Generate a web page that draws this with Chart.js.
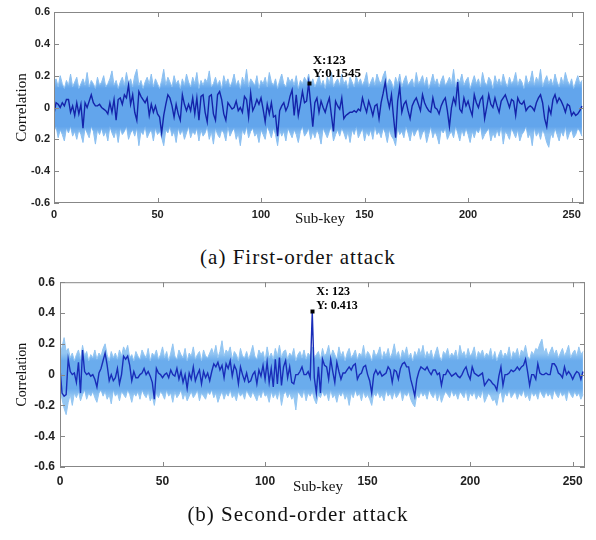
<!DOCTYPE html>
<html>
<head>
<meta charset="utf-8">
<script src="https://cdn.jsdelivr.net/npm/chart.js@4.4.1/dist/chart.umd.min.js"></script>
<style>
  html, body { margin: 0; padding: 0; background: #fff; }
  #page { position: relative; width: 596px; height: 540px; overflow: hidden; }
  .box { position: absolute; left: 0; width: 596px; }
  .caption { position: absolute; left: 0; width: 596px; text-align: center;
             font-family: "Liberation Serif", serif; font-size: 21px; line-height: 20px;
             letter-spacing: 1px; color: #111; }
</style>
</head>
<body>
<div id="page">
  <div class="box" style="top:0;height:240px"><canvas id="firstChart" width="596" height="240"></canvas></div>
  <div class="caption" style="top:247px">(a) First-order attack</div>
  <div class="box" style="top:270px;height:270px"><canvas id="secondChart" width="596" height="270"></canvas></div>
  <div class="caption" style="top:504px">(b) Second-order attack</div>
</div>
<script>
// tick values and labels
const xTickValues = [0, 50, 100, 150, 200, 250];
const yTickValues = [-0.6, -0.4, -0.2, 0, 0.2, 0.4, 0.6];
// the first plot really prints "0.2" under zero (minus sign missing)
const yTickLabelsFirst = ['-0.6', '-0.4', '0.2', '0', '0.2', '0.4', '0.6'];
const yTickLabelsSecond = ['-0.6', '-0.4', '-0.2', '0', '0.2', '0.4', '0.6'];

// peak annotations
const peakKey = 123;
const peakTextFirst = ['X:123', 'Y:0.1545'];
const peakTextSecond = ['X: 123', 'Y: 0.413'];

// (a) first-order attack: correct key trace, and the band of all other keys
const firstOrderKey = [
  -0.04, 0.03, 0.02, 0.00, 0.03, 0.01, 0.05, 0.05, -0.03, 0.01, -0.05, 0.03, -0.04, 0.02, -0.13, 0.03,
  0.00, 0.04, 0.08, 0.03, 0.01, 0.01, 0.02, 0.00, -0.01, -0.02, -0.04, 0.03, -0.03, 0.05, -0.08, 0.05,
  0.06, 0.02, 0.08, 0.06, 0.14, 0.02, 0.08, -0.03, -0.08, 0.10, 0.07, 0.05, 0.03, 0.06, -0.05, 0.02,
  -0.03, 0.01, -0.04, -0.06, -0.16, -0.05, 0.02, 0.08, 0.06, 0.01, -0.06, 0.02, -0.04, -0.08, 0.08, 0.02,
  -0.02, 0.02, -0.02, 0.06, -0.04, 0.06, -0.08, 0.07, 0.08, -0.03, -0.09, 0.07, 0.08, -0.04, -0.08, 0.08,
  0.10, 0.05, -0.04, -0.08, 0.03, 0.01, -0.01, 0.00, 0.04, -0.02, 0.00, -0.03, 0.07, 0.05, -0.06, 0.09,
  -0.02, 0.01, 0.05, 0.02, 0.06, -0.01, -0.09, 0.02, -0.04, 0.03, -0.06, -0.05, -0.18, -0.02, 0.01, 0.03,
  -0.02, 0.01, 0.07, 0.11, -0.05, 0.08, -0.05, 0.02, 0.10, 0.03, 0.04, 0.1545, 0.02, -0.12, 0.03, 0.06,
  -0.03, 0.04, 0.00, -0.03, 0.02, 0.06, -0.05, -0.15, 0.04, 0.01, -0.01, 0.06, -0.07, -0.05, -0.04, -0.03,
  -0.03, -0.02, -0.03, -0.01, -0.02, 0.06, 0.01, -0.03, 0.04, 0.00, -0.05, 0.01, 0.02, -0.07, 0.03, 0.09,
  0.16, 0.06, 0.00, 0.08, -0.06, -0.19, 0.04, 0.13, -0.03, 0.02, 0.04, -0.02, -0.07, 0.01, 0.04, 0.06,
  0.02, -0.02, 0.08, 0.03, 0.00, -0.02, -0.03, 0.06, 0.00, -0.01, -0.04, 0.01, 0.04, 0.06, -0.02, -0.12,
  0.00, 0.06, 0.02, 0.16, -0.01, -0.03, 0.06, 0.01, 0.04, -0.01, -0.05, 0.08, 0.03, 0.00, 0.05, 0.07,
  -0.07, 0.00, 0.08, 0.02, 0.00, 0.06, 0.01, -0.03, 0.04, 0.06, 0.08, 0.04, 0.00, 0.05, 0.04, -0.05,
  0.06, 0.03, 0.02, 0.04, -0.02, 0.00, 0.01, 0.00, -0.02, 0.03, 0.06, 0.08, 0.03, -0.07, -0.12, 0.00,
  -0.04, 0.05, 0.08, 0.03, 0.06, 0.04, 0.01, -0.03, 0.02, 0.01, -0.05, -0.03, -0.05, -0.04, -0.02, 0.01
];
const firstOrderUpper = [
  0.16, 0.18, 0.13, 0.20, 0.15, 0.12, 0.17, 0.14, 0.21, 0.13, 0.16, 0.19, 0.12, 0.15, 0.18, 0.14,
  0.22, 0.13, 0.17, 0.15, 0.12, 0.19, 0.14, 0.16, 0.20, 0.13, 0.15, 0.18, 0.23, 0.14, 0.17, 0.12,
  0.16, 0.19, 0.14, 0.22, 0.15, 0.18, 0.13, 0.20, 0.24, 0.14, 0.17, 0.12, 0.16, 0.19, 0.15, 0.21,
  0.13, 0.18, 0.15, 0.12, 0.17, 0.24, 0.14, 0.19, 0.16, 0.13, 0.20, 0.15, 0.17, 0.12, 0.18, 0.14,
  0.21, 0.16, 0.13, 0.19, 0.15, 0.22, 0.12, 0.17, 0.14, 0.18, 0.16, 0.23, 0.13, 0.15, 0.19, 0.14,
  0.17, 0.12, 0.20, 0.15, 0.18, 0.13, 0.16, 0.21, 0.14, 0.17, 0.12, 0.19, 0.15, 0.24, 0.13, 0.18,
  0.16, 0.14, 0.20, 0.12, 0.17, 0.15, 0.19, 0.13, 0.22, 0.16, 0.14, 0.18, 0.12, 0.17, 0.21, 0.15,
  0.13, 0.19, 0.16, 0.18, 0.14, 0.20, 0.12, 0.17, 0.15, 0.19, 0.16, 0.21, 0.14, 0.18, 0.13, 0.16,
  0.20, 0.14, 0.17, 0.12, 0.19, 0.15, 0.22, 0.13, 0.16, 0.18, 0.14, 0.21, 0.15, 0.17, 0.12, 0.19,
  0.16, 0.13, 0.20, 0.15, 0.18, 0.14, 0.17, 0.22, 0.13, 0.16, 0.19, 0.14, 0.21, 0.17, 0.15, 0.20,
  0.23, 0.14, 0.18, 0.16, 0.12, 0.19, 0.15, 0.21, 0.13, 0.17, 0.20, 0.14, 0.16, 0.18, 0.13, 0.22,
  0.15, 0.17, 0.20, 0.14, 0.19, 0.12, 0.16, 0.21, 0.15, 0.18, 0.13, 0.17, 0.20, 0.14, 0.16, 0.19,
  0.15, 0.24, 0.13, 0.18, 0.16, 0.21, 0.14, 0.17, 0.19, 0.12, 0.16, 0.20, 0.15, 0.18, 0.13, 0.22,
  0.16, 0.14, 0.19, 0.17, 0.12, 0.20, 0.15, 0.18, 0.14, 0.21, 0.16, 0.13, 0.19, 0.15, 0.17, 0.22,
  0.14, 0.18, 0.16, 0.12, 0.20, 0.15, 0.17, 0.23, 0.14, 0.19, 0.16, 0.24, 0.13, 0.17, 0.20, 0.15,
  0.18, 0.14, 0.21, 0.16, 0.13, 0.19, 0.15, 0.22, 0.17, 0.14, 0.18, 0.12, 0.16, 0.20, 0.15, 0.17
];
const firstOrderLower = [
  -0.15, -0.12, -0.19, -0.14, -0.17, -0.21, -0.13, -0.16, -0.12, -0.18, -0.15, -0.20, -0.14, -0.17, -0.22, -0.13,
  -0.16, -0.19, -0.12, -0.15, -0.23, -0.14, -0.17, -0.13, -0.18, -0.15, -0.21, -0.12, -0.16, -0.19, -0.14, -0.22,
  -0.13, -0.17, -0.15, -0.12, -0.20, -0.16, -0.14, -0.18, -0.13, -0.24, -0.15, -0.17, -0.12, -0.19, -0.16, -0.14,
  -0.21, -0.13, -0.17, -0.15, -0.19, -0.24, -0.14, -0.16, -0.12, -0.18, -0.15, -0.22, -0.13, -0.17, -0.14, -0.20,
  -0.16, -0.12, -0.19, -0.15, -0.17, -0.13, -0.21, -0.14, -0.18, -0.16, -0.12, -0.20, -0.15, -0.23, -0.13, -0.17,
  -0.19, -0.14, -0.16, -0.21, -0.12, -0.18, -0.15, -0.13, -0.20, -0.16, -0.24, -0.14, -0.17, -0.12, -0.19, -0.15,
  -0.13, -0.18, -0.16, -0.22, -0.14, -0.17, -0.20, -0.12, -0.15, -0.19, -0.13, -0.17, -0.24, -0.14, -0.18, -0.15,
  -0.21, -0.13, -0.16, -0.19, -0.14, -0.17, -0.22, -0.15, -0.12, -0.18, -0.16, -0.13, -0.20, -0.15, -0.19, -0.14,
  -0.17, -0.23, -0.13, -0.16, -0.19, -0.15, -0.12, -0.21, -0.17, -0.14, -0.18, -0.13, -0.16, -0.20, -0.15, -0.22,
  -0.14, -0.17, -0.12, -0.19, -0.16, -0.13, -0.21, -0.15, -0.18, -0.14, -0.20, -0.12, -0.17, -0.15, -0.19, -0.13,
  -0.16, -0.22, -0.14, -0.18, -0.20, -0.24, -0.13, -0.17, -0.15, -0.19, -0.12, -0.16, -0.21, -0.14, -0.18, -0.15,
  -0.13, -0.20, -0.16, -0.14, -0.22, -0.17, -0.12, -0.19, -0.15, -0.18, -0.23, -0.14, -0.16, -0.13, -0.20, -0.17,
  -0.15, -0.19, -0.12, -0.16, -0.21, -0.14, -0.18, -0.13, -0.17, -0.22, -0.15, -0.19, -0.14, -0.16, -0.12, -0.20,
  -0.17, -0.15, -0.13, -0.21, -0.16, -0.19, -0.14, -0.18, -0.12, -0.23, -0.15, -0.17, -0.20, -0.13, -0.16, -0.19,
  -0.14, -0.21, -0.17, -0.15, -0.12, -0.19, -0.16, -0.24, -0.13, -0.18, -0.15, -0.20, -0.14, -0.17, -0.22, -0.25,
  -0.16, -0.19, -0.13, -0.17, -0.21, -0.15, -0.18, -0.12, -0.20, -0.16, -0.14, -0.19, -0.17, -0.13, -0.15, -0.18
];

// (b) second-order attack
const secondOrderKey = [
  0.04, -0.12, -0.14, -0.13, 0.10, 0.02, 0.00, 0.01, -0.05, 0.08, -0.12, 0.16, 0.02, 0.00, 0.01, -0.01,
  0.00, -0.03, -0.08, 0.01, 0.04, 0.09, 0.14, 0.06, -0.04, 0.00, -0.04, -0.02, 0.04, -0.06, 0.00, 0.12,
  0.10, 0.12, 0.06, -0.04, 0.02, -0.02, -0.02, 0.00, 0.01, 0.04, 0.00, 0.02, -0.01, -0.05, -0.16, 0.04,
  0.01, 0.00, -0.02, 0.00, 0.01, -0.02, 0.03, 0.00, -0.01, 0.04, -0.03, 0.02, -0.05, 0.00, -0.09, 0.01,
  -0.03, 0.05, -0.04, 0.00, 0.03, -0.06, 0.02, -0.02, 0.01, -0.04, 0.02, 0.07, 0.05, 0.08, 0.03, 0.06,
  -0.02, 0.07, 0.04, 0.09, -0.01, 0.06, 0.03, -0.06, 0.05, 0.00, -0.04, 0.01, -0.05, -0.04, 0.00, 0.02,
  -0.06, 0.03, -0.01, 0.06, -0.03, 0.08, -0.05, 0.04, -0.08, 0.10, -0.06, 0.11, -0.07, 0.05, 0.09, -0.02,
  0.05, -0.05, -0.06, 0.00, 0.00, 0.02, 0.05, 0.00, 0.00, 0.02, -0.02, 0.41, -0.02, -0.12, 0.05, -0.12,
  0.10, 0.06, 0.05, -0.03, 0.10, 0.02, -0.05, 0.08, 0.02, -0.03, 0.01, 0.01, 0.03, 0.05, 0.03, 0.06,
  0.07, -0.03, 0.00, 0.01, 0.05, 0.06, 0.00, -0.04, -0.12, 0.00, 0.03, 0.00, 0.02, -0.01, 0.00, 0.01,
  0.05, 0.03, -0.05, 0.03, 0.02, -0.03, 0.04, 0.07, 0.08, 0.05, 0.05, -0.03, -0.08, -0.14, -0.03, 0.02,
  0.05, 0.04, 0.03, 0.05, 0.02, 0.00, 0.03, 0.03, 0.00, 0.01, -0.07, 0.00, 0.00, 0.03, 0.01, -0.01,
  0.00, 0.01, -0.01, -0.02, 0.00, 0.03, 0.05, 0.00, -0.03, 0.05, 0.01, 0.00, -0.01, 0.00, 0.01, -0.07,
  -0.05, -0.03, -0.04, -0.06, -0.07, -0.10, -0.01, 0.05, -0.07, 0.00, 0.00, 0.01, 0.03, 0.02, 0.03, 0.05,
  0.03, 0.05, 0.06, 0.10, 0.02, -0.07, 0.00, 0.00, -0.03, 0.07, 0.01, 0.00, 0.00, 0.01, 0.00, 0.00,
  0.07, 0.07, 0.05, 0.01, 0.00, -0.02, 0.05, 0.00, 0.02, 0.00, -0.03, 0.00, 0.02, 0.01, -0.03, 0.02
];
const secondOrderUpper = [
  0.12, 0.18, 0.24, 0.15, 0.17, 0.11, 0.14, 0.09, 0.13, 0.16, 0.10, 0.19, 0.12, 0.15, 0.09, 0.13,
  0.11, 0.16, 0.10, 0.14, 0.12, 0.17, 0.20, 0.13, 0.09, 0.15, 0.11, 0.14, 0.10, 0.16, 0.12, 0.18,
  0.15, 0.19, 0.11, 0.13, 0.09, 0.15, 0.12, 0.10, 0.16, 0.13, 0.11, 0.17, 0.09, 0.14, 0.12, 0.16,
  0.10, 0.13, 0.18, 0.11, 0.15, 0.09, 0.14, 0.20, 0.12, 0.10, 0.16, 0.13, 0.11, 0.17, 0.09, 0.14,
  0.12, 0.18, 0.10, 0.13, 0.15, 0.09, 0.16, 0.12, 0.11, 0.14, 0.17, 0.13, 0.19, 0.11, 0.15, 0.22,
  0.12, 0.16, 0.14, 0.18, 0.10, 0.15, 0.13, 0.09, 0.17, 0.12, 0.11, 0.15, 0.10, 0.14, 0.19, 0.12,
  0.10, 0.16, 0.13, 0.15, 0.09, 0.18, 0.11, 0.14, 0.10, 0.17, 0.12, 0.19, 0.11, 0.15, 0.16, 0.10,
  0.14, 0.12, 0.17, 0.09, 0.13, 0.15, 0.11, 0.16, 0.10, 0.14, 0.12, 0.18, 0.11, 0.13, 0.15, 0.10,
  0.17, 0.12, 0.14, 0.19, 0.11, 0.16, 0.13, 0.10, 0.18, 0.12, 0.15, 0.09, 0.14, 0.17, 0.11, 0.13,
  0.16, 0.10, 0.14, 0.12, 0.19, 0.11, 0.15, 0.13, 0.09, 0.16, 0.12, 0.14, 0.18, 0.10, 0.15, 0.12,
  0.17, 0.11, 0.14, 0.20, 0.12, 0.15, 0.10, 0.16, 0.13, 0.18, 0.11, 0.14, 0.09, 0.15, 0.12, 0.17,
  0.13, 0.19, 0.11, 0.15, 0.12, 0.16, 0.10, 0.14, 0.18, 0.12, 0.09, 0.15, 0.13, 0.17, 0.11, 0.14,
  0.12, 0.16, 0.10, 0.19, 0.13, 0.15, 0.11, 0.17, 0.12, 0.14, 0.18, 0.10, 0.15, 0.13, 0.16, 0.11,
  0.14, 0.12, 0.17, 0.10, 0.15, 0.09, 0.13, 0.16, 0.11, 0.14, 0.12, 0.18, 0.10, 0.15, 0.13, 0.17,
  0.11, 0.16, 0.14, 0.19, 0.12, 0.10, 0.15, 0.13, 0.17, 0.16, 0.20, 0.23, 0.14, 0.17, 0.12, 0.15,
  0.18, 0.13, 0.16, 0.11, 0.14, 0.17, 0.12, 0.15, 0.19, 0.11, 0.14, 0.16, 0.12, 0.18, 0.13, 0.15
];
const secondOrderLower = [
  -0.10, -0.16, -0.22, -0.26, -0.18, -0.13, -0.20, -0.12, -0.15, -0.11, -0.17, -0.13, -0.10, -0.16, -0.12, -0.14,
  -0.11, -0.15, -0.18, -0.12, -0.10, -0.14, -0.11, -0.16, -0.13, -0.19, -0.10, -0.14, -0.12, -0.17, -0.11, -0.13,
  -0.15, -0.10, -0.13, -0.18, -0.12, -0.14, -0.11, -0.16, -0.10, -0.13, -0.15, -0.11, -0.17, -0.14, -0.20, -0.12,
  -0.15, -0.11, -0.13, -0.16, -0.10, -0.14, -0.12, -0.18, -0.11, -0.15, -0.13, -0.10, -0.16, -0.12, -0.17, -0.14,
  -0.11, -0.15, -0.13, -0.10, -0.17, -0.12, -0.14, -0.16, -0.11, -0.13, -0.10, -0.15, -0.12, -0.18, -0.14, -0.11,
  -0.16, -0.12, -0.14, -0.10, -0.15, -0.13, -0.17, -0.11, -0.14, -0.12, -0.16, -0.10, -0.13, -0.15, -0.11, -0.14,
  -0.17, -0.12, -0.15, -0.10, -0.14, -0.13, -0.18, -0.11, -0.15, -0.12, -0.16, -0.10, -0.20, -0.13, -0.11, -0.15,
  -0.12, -0.16, -0.14, -0.23, -0.11, -0.13, -0.15, -0.10, -0.17, -0.12, -0.14, -0.11, -0.16, -0.19, -0.13, -0.15,
  -0.11, -0.14, -0.12, -0.17, -0.10, -0.15, -0.13, -0.18, -0.12, -0.14, -0.11, -0.16, -0.13, -0.20, -0.12, -0.15,
  -0.10, -0.14, -0.12, -0.17, -0.11, -0.15, -0.13, -0.16, -0.20, -0.12, -0.14, -0.11, -0.15, -0.13, -0.17, -0.10,
  -0.14, -0.12, -0.16, -0.11, -0.15, -0.13, -0.10, -0.17, -0.12, -0.14, -0.11, -0.16, -0.19, -0.21, -0.13, -0.15,
  -0.11, -0.14, -0.12, -0.16, -0.10, -0.13, -0.15, -0.11, -0.17, -0.12, -0.18, -0.14, -0.11, -0.13, -0.15, -0.10,
  -0.14, -0.12, -0.16, -0.11, -0.13, -0.15, -0.10, -0.17, -0.12, -0.14, -0.11, -0.16, -0.13, -0.15, -0.10, -0.18,
  -0.15, -0.12, -0.14, -0.17, -0.16, -0.20, -0.13, -0.11, -0.18, -0.12, -0.14, -0.10, -0.15, -0.13, -0.11, -0.16,
  -0.12, -0.14, -0.10, -0.15, -0.13, -0.17, -0.11, -0.14, -0.12, -0.16, -0.10, -0.13, -0.15, -0.11, -0.14, -0.12,
  -0.16, -0.10, -0.13, -0.15, -0.11, -0.14, -0.12, -0.17, -0.10, -0.13, -0.15, -0.11, -0.14, -0.12, -0.16, -0.13
];

const subKeys = firstOrderKey.map((_, i) => i);
const toPoints = (arr) => arr.map((v, i) => ({ x: subKeys[i], y: v }));

const axisGray = 'rgb(135,135,135)';

// band fill: core colour, fading to a paler tone in the spikes beyond +-coreLevel
function bandFill(cfg) {
  return (c) => {
    const chart = c.chart;
    const a = chart.chartArea;
    if (!a) return cfg.bandColor;
    const y = chart.scales.y;
    const h = a.bottom - a.top;
    const f = (v) => Math.min(1, Math.max(0, (y.getPixelForValue(v) - a.top) / h));
    const g = chart.ctx.createLinearGradient(0, a.top, 0, a.bottom);
    g.addColorStop(0, cfg.edgeColor);
    g.addColorStop(f(cfg.coreLevel + 0.05), cfg.edgeColor);
    g.addColorStop(f(cfg.coreLevel), cfg.bandColor);
    g.addColorStop(f(-cfg.coreLevel), cfg.bandColor);
    g.addColorStop(f(-cfg.coreLevel - 0.05), cfg.edgeColor);
    g.addColorStop(1, cfg.edgeColor);
    return g;
  };
}

// box, inward ticks on all four sides, axis titles and the data tip
const figureDecor = {
  id: 'figureDecor',
  afterDraw(chart, args, opts) {
    const { ctx, chartArea: a, scales } = chart;
    ctx.save();
    ctx.strokeStyle = axisGray;
    ctx.lineWidth = 1;
    ctx.strokeRect(a.left + 0.5, a.top + 0.5, a.right - a.left - 1, a.bottom - a.top - 1);
    ctx.beginPath();
    xTickValues.forEach(v => {
      const px = Math.round(scales.x.getPixelForValue(v)) + 0.5;
      ctx.moveTo(px, a.bottom); ctx.lineTo(px, a.bottom - 5);
      ctx.moveTo(px, a.top); ctx.lineTo(px, a.top + 5);
    });
    yTickValues.forEach(v => {
      const py = Math.round(scales.y.getPixelForValue(v)) + 0.5;
      ctx.moveTo(a.left, py); ctx.lineTo(a.left + 5, py);
      ctx.moveTo(a.right, py); ctx.lineTo(a.right - 5, py);
    });
    ctx.stroke();

    ctx.fillStyle = '#111';
    ctx.textAlign = 'center';
    ctx.textBaseline = 'middle';
    ctx.font = opts.yTitleSize + 'px "Liberation Serif"';
    ctx.save();
    ctx.translate(opts.yTitleX, (a.top + a.bottom) / 2);
    ctx.rotate(-Math.PI / 2);
    ctx.fillText('Correlation', 0, 0);
    ctx.restore();
    ctx.font = opts.xTitleSize + 'px "Liberation Serif"';
    ctx.fillText('Sub-key', opts.xTitleX, opts.xTitleY);

    // data tip
    const mx = scales.x.getPixelForValue(peakKey);
    const my = scales.y.getPixelForValue(opts.peakValue);
    ctx.fillStyle = '#000';
    ctx.fillRect(Math.round(mx) - 1.5, Math.round(my) - 1.5, 4, 4);
    ctx.font = 'bold ' + opts.tipSize + 'px "Liberation Serif"';
    ctx.textAlign = 'left';
    opts.tipText.forEach((t, i) => {
      ctx.fillText(t, mx + 4, my + opts.tipOffset + i * opts.tipGap);
    });
    ctx.restore();
  }
};

function makeChart(id, keyData, upper, lower, cfg) {
  const tickFont = { family: '"Liberation Sans", Arial, sans-serif', size: cfg.tickSize, weight: 'bold' };
  new Chart(document.getElementById(id), {
    type: 'line',
    data: {
      datasets: [
        { data: toPoints(keyData), borderColor: cfg.lineColor, borderWidth: 1.4, pointRadius: 0, fill: false, order: 0 },
        { data: toPoints(upper), borderColor: cfg.edgeColor, borderWidth: 1, pointRadius: 0,
          backgroundColor: bandFill(cfg), fill: '+1', order: 1 },
        { data: toPoints(lower), borderColor: cfg.edgeColor, borderWidth: 1, pointRadius: 0, fill: false, order: 1 }
      ]
    },
    options: {
      responsive: false,
      animation: false,
      events: [],
      layout: { padding: cfg.padding },
      plugins: {
        legend: { display: false },
        tooltip: { enabled: false },
        figureDecor: cfg.decor
      },
      scales: {
        x: {
          type: 'linear', min: 0, max: 256,
          afterBuildTicks: (axis) => { axis.ticks = xTickValues.map(v => ({ value: v })); },
          afterFit: (axis) => { axis.height = cfg.xAxisHeight; },
          grid: { display: false, drawTicks: false },
          border: { display: false },
          ticks: { font: tickFont, color: '#222', padding: cfg.xPad, maxRotation: 0, autoSkip: false,
                   callback: (v) => String(v) }
        },
        y: {
          min: -0.6, max: 0.6,
          afterBuildTicks: (axis) => { axis.ticks = yTickValues.map(v => ({ value: v })); },
          afterFit: (axis) => { axis.width = cfg.yAxisWidth; },
          grid: { display: false, drawTicks: false },
          border: { display: false },
          ticks: { font: tickFont, color: '#222', padding: cfg.yPad, autoSkip: false,
                   callback: (v, i) => cfg.yLabels[i] }
        }
      }
    },
    plugins: [figureDecor]
  });
}

makeChart('firstChart', firstOrderKey, firstOrderUpper, firstOrderLower, {
  lineColor: 'rgb(20,35,170)', bandColor: 'rgb(98,165,236)', edgeColor: 'rgb(140,192,241)', coreLevel: 0.12,
  padding: { left: 0, right: 12, top: 12, bottom: 0 },
  xAxisHeight: 37, yAxisWidth: 54, tickSize: 11, xPad: 5, yPad: 4,
  yLabels: yTickLabelsFirst,
  decor: { yTitleX: 22, yTitleSize: 15, xTitleX: 320, xTitleY: 219, xTitleSize: 15,
           peakValue: 0.1545, tipText: peakTextFirst, tipSize: 13, tipOffset: -22, tipGap: 13 }
});

makeChart('secondChart', secondOrderKey, secondOrderUpper, secondOrderLower, {
  lineColor: 'rgb(25,45,185)', bandColor: 'rgb(106,172,237)', edgeColor: 'rgb(148,198,242)', coreLevel: 0.09,
  padding: { left: 0, right: 11, top: 8, bottom: 0 },
  xAxisHeight: 73, yAxisWidth: 60, tickSize: 12, xPad: 7, yPad: 5,
  yLabels: yTickLabelsSecond,
  decor: { yTitleX: 22, yTitleSize: 14, xTitleX: 318, xTitleY: 217, xTitleSize: 15,
           peakValue: 0.41, tipText: peakTextSecond, tipSize: 12, tipOffset: -20, tipGap: 14 }
});
</script>
</body>
</html>
